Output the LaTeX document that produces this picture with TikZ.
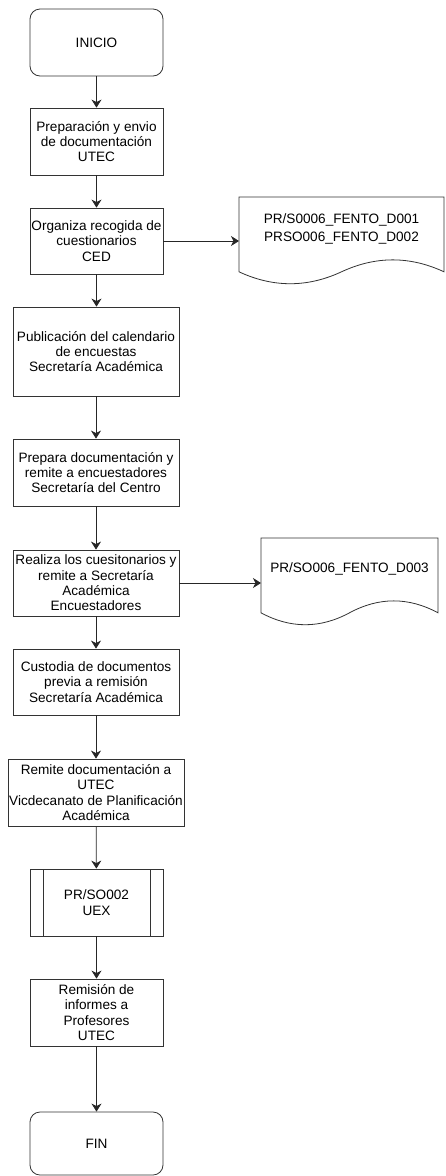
\documentclass[tikz,border=0pt]{standalone}
\usepackage{fontspec}
\setmainfont{Liberation Sans}
\usetikzlibrary{arrows.meta, positioning}
\newcommand{\flowfont}{\fontsize{13.6pt}{15.4pt}\selectfont}
\tikzset{
  proc/.style={draw=black!80, line width=0.8pt, align=center, inner sep=1pt,
    minimum height=67pt, font=\flowfont},
  term/.style={proc, rounded corners=10pt, minimum width=133pt},
  subproc/.style={proc, minimum width=133pt, path picture={
      \draw[black!80, line width=0.8pt]
        ([xshift=13pt]path picture bounding box.north west) --
        ([xshift=13pt]path picture bounding box.south west)
        ([xshift=-13pt]path picture bounding box.north east) --
        ([xshift=-13pt]path picture bounding box.south east);}},
  doctext/.style={align=center, inner sep=0pt, font=\fontsize{13.6pt}{17.7pt}\selectfont},
  docline/.style={draw=black!80, line width=0.8pt},
  arr/.style={draw=black!85, line width=0.8pt, -{Stealth[length=8pt, width=10pt, inset=2.5pt]}}
}
\begin{document}
\begin{tikzpicture}[x=1pt, y=1pt]
  \useasboundingbox (0,0) rectangle (445,-1176);
  % main column
  \node[term] (inicio) at (96.5,-42.5) {INICIO};
  \node[proc, minimum width=133pt] (prep) at (96.5,-141.5)
    {Preparación y envio\\de documentación\\UTEC};
  \node[proc, minimum width=133pt, minimum height=66pt] (organiza) at (96.5,-241)
    {Organiza recogida de\\cuestionarios\\CED};
  \node[proc, minimum width=166pt, minimum height=89pt] (publica) at (96,-351.5)
    {Publicación del calendario\\de encuestas\\Secretaría Académica};
  \node[proc, minimum width=166pt] (prepara) at (96,-472.5)
    {Prepara documentación y\\remite a encuestadores\\Secretaría del Centro};
  \node[proc, minimum width=166pt, minimum height=66pt] (realiza) at (96,-583)
    {Realiza los cuesitonarios y\\remite a Secretaría\\Académica\\Encuestadores};
  \node[proc, minimum width=166pt, minimum height=66pt] (custodia) at (96,-682)
    {Custodia de documentos\\previa a remisión\\Secretaría Académica};
  \node[proc, minimum width=176pt] (remite) at (96,-792.5)
    {Remite documentación a\\UTEC\\Vicdecanato de Planificación\\Académica};
  \node[subproc] (uex) at (96.5,-902.5) {PR/SO002\\UEX};
  \node[proc, minimum width=133pt] (informes) at (96.5,-1012.5)
    {Remisión de\\informes a\\Profesores\\UTEC};
  \node[term, minimum height=63pt] (fin) at (96.5,-1143.5) {FIN};

  % documents
  \draw[docline] (239,-197) -- (444,-197) -- (444,-271.8)
    .. controls (409.8,-255.9) and (375.7,-255.9) .. (341.5,-271.8)
    .. controls (307.3,-287.7) and (273.2,-287.7) .. (239,-271.8) -- cycle;
  \coordinate (doc1) at (239,-241);
  \node[doctext] (doc1txt) at (341.5,-229) {PR/S0006\_FENTO\_D001\\PRSO006\_FENTO\_D002};

  \draw[docline] (261,-538) -- (438,-538) -- (438,-612.8)
    .. controls (408.5,-596.9) and (379,-596.9) .. (349.5,-612.8)
    .. controls (320,-628.7) and (290.5,-628.7) .. (261,-612.8) -- cycle;
  \coordinate (doc2) at (261,-583);
  \node[doctext] (doc2txt) at (349.5,-569) {PR/SO006\_FENTO\_D003};

  % connectors
  \draw[arr] (inicio) -- (prep);
  \draw[arr] (prep) -- (organiza);
  \draw[arr] (organiza) -- (organiza |- publica.north);
  \draw[arr] (publica) -- (prepara);
  \draw[arr] (prepara) -- (realiza);
  \draw[arr] (realiza) -- (custodia);
  \draw[arr] (custodia) -- (remite);
  \draw[arr] (remite) -- (uex);
  \draw[arr] (uex) -- (informes);
  \draw[arr] (informes) -- (fin);
  \draw[arr] (organiza) -- (doc1);
  \draw[arr] (realiza) -- (doc2);
\end{tikzpicture}
\end{document}
